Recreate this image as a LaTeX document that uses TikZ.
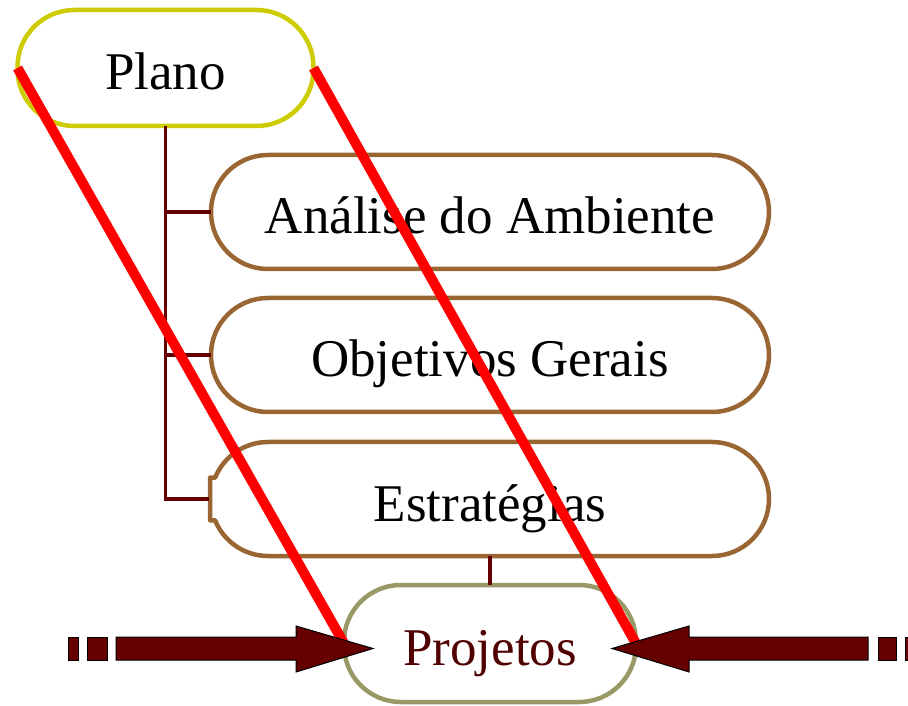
\documentclass[tikz,border=0pt]{standalone}
\usepackage{fontspec}
\setmainfont{Liberation Serif}
\usetikzlibrary{positioning}
\definecolor{planoline}{RGB}{204,204,0}
\definecolor{boxbrown}{RGB}{153,102,51}
\definecolor{projline}{RGB}{153,153,102}
\definecolor{darkred}{RGB}{102,0,0}
\definecolor{projtext}{RGB}{80,0,0}
\begin{document}
\begin{tikzpicture}[x=1pt,y=1pt]
			\tikzset{pill/.style={draw=boxbrown,line width=4.5pt,outer sep=0pt,rounded corners=56.9pt,minimum width=558pt,minimum height=114pt,inner sep=0pt,text height=44pt,text depth=0pt,font=\fontsize{53}{60}\selectfont}}
			\tikzset{conn/.style={draw=darkred,line width=3.5pt}}
			\tikzset{cross/.style={draw=red,line width=10pt}}
			\tikzset{blockarrow/.style={fill=darkred,draw=black,line width=1pt}}
			\useasboundingbox (0,0) rectangle (908,705);
			\node[pill,draw=planoline,minimum width=296pt,minimum height=116pt] (plano) at (165.5,637) {Plano};
			\node[pill] (ana) at (490,493) {Análise do Ambiente};
			\node[pill] (obj) at (490,350) {Objetivos Gerais};
			\node[pill,draw=none] (estr) at (490,206) {Estratégias};
			\draw[boxbrown,line width=4.5pt,line join=round] ([xshift=57]estr.north west) -- ([xshift=-57]estr.north east) arc[start angle=90,end angle=-90,radius=57] -- ([xshift=57]estr.south west) arc[start angle=270,end angle=202,radius=57] -- ++(-5,0) -- ++(0,42.7) -- ++(5,0) arc[start angle=158,end angle=90,radius=57] -- cycle;
			\node[pill,draw=projline,minimum width=292pt,minimum height=117pt,text=projtext] (proj) at (490,61.5) {Projetos};
			\draw[conn] (plano.south) |- (ana.west);
			\draw[conn] (plano.south) |- (obj.west);
			\draw[conn] (plano.south) |- ([xshift=-2]estr.west);
			\draw[conn] (estr.south) -- (proj.north);
			\draw[cross] (plano.west) -- (proj.west);
			\draw[cross] (plano.east) -- (proj.east);
			\coordinate (tipL) at (373,56.5);
			\coordinate (tipR) at (612,56.5);
			\draw[blockarrow] (116,45) -- (296,45) -- (296,33) -- (tipL) -- (296,79) -- (296,68) -- (116,68) -- cycle;
			\draw[blockarrow] (68,45) rectangle (78,68);
			\draw[blockarrow] (87,45) rectangle (107,68);
			\draw[blockarrow] (868,45) -- (689,45) -- (689,33) -- (tipR) -- (689,79) -- (689,68) -- (868,68) -- cycle;
			\draw[blockarrow] (878,45) rectangle (896,68);
			\draw[blockarrow] (905,45) rectangle (915,68);
		\end{tikzpicture}
\end{document}
